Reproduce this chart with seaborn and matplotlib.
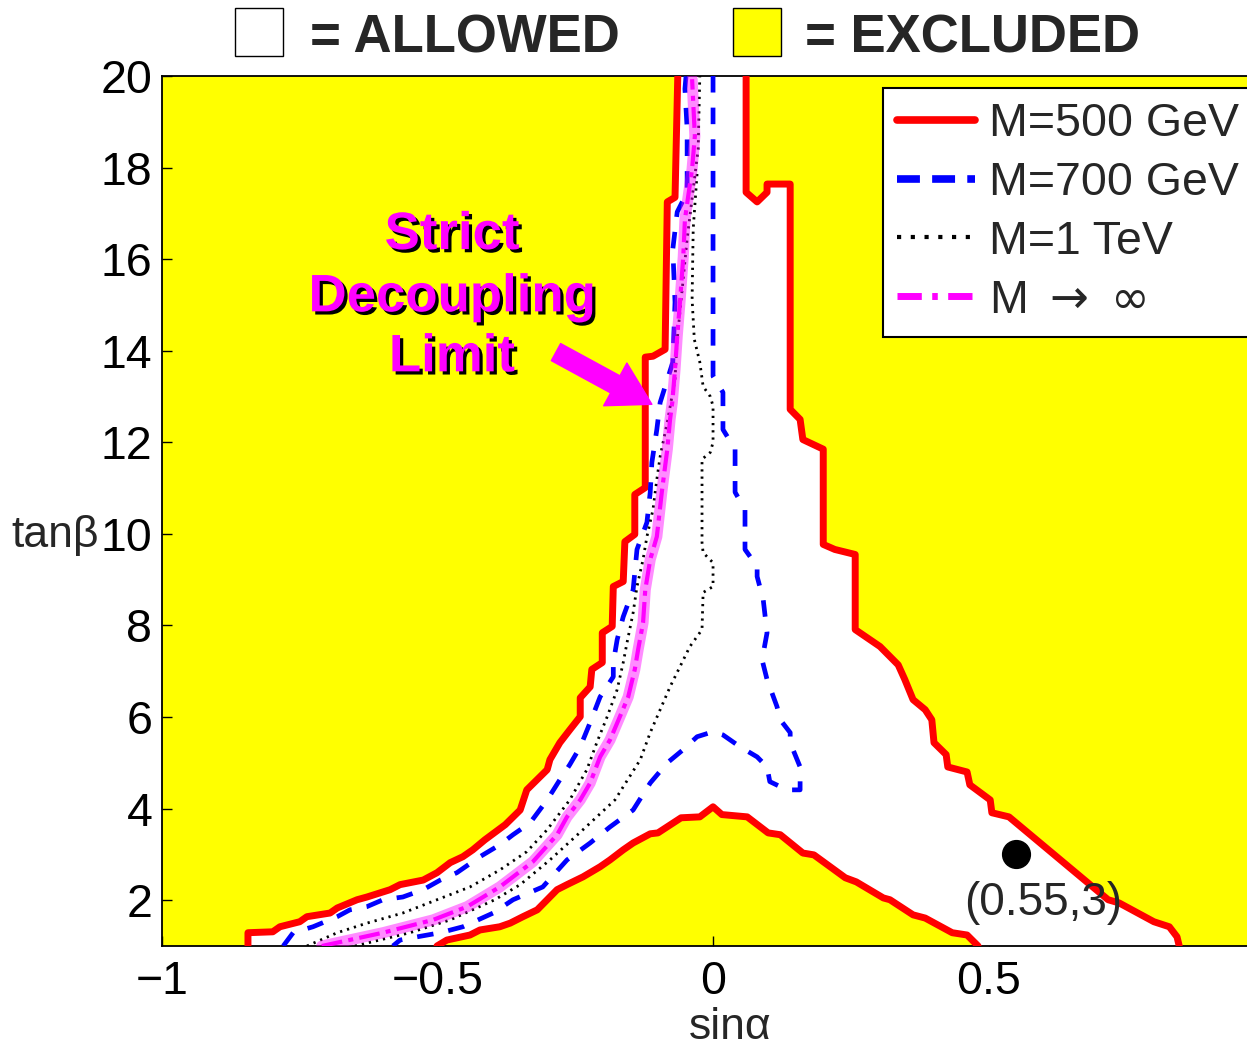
"""Allowed / excluded region in the (sin alpha, tan beta) plane."""

import matplotlib
matplotlib.use("Agg")
import matplotlib.pyplot as plt
import matplotlib.patheffects as pe
from matplotlib.lines import Line2D
from matplotlib.patches import Rectangle
import seaborn as sns

# --- M = 500 GeV contour (red), left branch bottom -> top ---
red_left_x = [-0.844, -0.844, -0.799, -0.786, -0.750, -0.737, -0.695, -0.682, -0.646, -0.628,
              -0.586, -0.568, -0.526, -0.501, -0.477, -0.454, -0.436, -0.414, -0.377, -0.350,
              -0.338, -0.301, -0.296, -0.278, -0.260, -0.241, -0.241, -0.223, -0.220, -0.201,
              -0.201, -0.183, -0.181, -0.163, -0.160, -0.142, -0.142, -0.123, -0.123, -0.109,
              -0.087, -0.083, -0.069, -0.064]
red_left_y = [1.00, 1.29, 1.31, 1.42, 1.53, 1.64, 1.72, 1.83, 2.01, 2.07,
              2.23, 2.34, 2.44, 2.60, 2.82, 2.95, 3.10, 3.32, 3.65, 3.97,
              4.41, 4.85, 5.07, 5.44, 5.72, 6.01, 6.42, 6.66, 7.04, 7.19,
              7.84, 7.98, 8.85, 8.96, 9.83, 9.99, 10.86, 11.01, 13.86, 13.88,
              14.03, 17.25, 17.35, 20.00]
# right branch top -> bottom
red_right_x = [0.060, 0.060, 0.080, 0.098, 0.098, 0.140, 0.140, 0.158, 0.163, 0.200,
               0.200, 0.221, 0.258, 0.258, 0.303, 0.336, 0.348, 0.363, 0.385, 0.397,
               0.401, 0.423, 0.426, 0.461, 0.466, 0.503, 0.506, 0.537, 0.717, 0.737,
               0.800, 0.828, 0.842, 0.846]
red_right_y = [20.00, 17.46, 17.25, 17.46, 17.64, 17.64, 12.72, 12.50, 12.06, 11.85,
               9.77, 9.66, 9.55, 7.91, 7.54, 7.14, 6.82, 6.38, 6.16, 5.94,
               5.44, 5.18, 4.91, 4.80, 4.52, 4.19, 3.91, 3.82, 2.01, 1.94,
               1.53, 1.42, 1.20, 1.00]
# lower bump
red_bump_x = [-0.501, -0.483, -0.441, -0.423, -0.387, -0.368, -0.345, -0.319, -0.301, -0.283,
              -0.265, -0.236, -0.205, -0.187, -0.163, -0.145, -0.114, -0.100, -0.058, -0.024,
              0.000, 0.016, 0.062, 0.100, 0.122, 0.163, 0.183, 0.240, 0.260, 0.309,
              0.321, 0.363, 0.385, 0.434, 0.461, 0.481]
red_bump_y = [1.00, 1.13, 1.24, 1.35, 1.42, 1.50, 1.64, 1.79, 2.01, 2.23,
              2.34, 2.51, 2.73, 2.88, 3.10, 3.25, 3.45, 3.47, 3.80, 3.82,
              4.04, 3.87, 3.82, 3.47, 3.43, 3.03, 2.99, 2.49, 2.40, 2.05,
              2.01, 1.68, 1.61, 1.29, 1.24, 1.00]

# --- M = 700 GeV contour (blue dashed) ---
blue_outer_x = [-0.780, -0.762, -0.726, -0.682, -0.659, -0.628, -0.599, -0.563, -0.526, -0.495,
                -0.465, -0.423, -0.387, -0.363, -0.332, -0.301, -0.278, -0.260, -0.241, -0.223,
                -0.205, -0.181, -0.181, -0.174, -0.163, -0.145, -0.138, -0.120, -0.114, -0.111,
                -0.102, -0.096, -0.073, -0.069, -0.073, -0.065, -0.047, -0.047, -0.051, -0.049]
blue_outer_y = [1.00, 1.29, 1.42, 1.64, 1.79, 1.86, 2.01, 2.07, 2.23, 2.44,
                2.60, 2.95, 3.21, 3.43, 3.69, 4.19, 4.63, 4.96, 5.35, 5.88,
                6.44, 6.88, 7.19, 7.69, 8.19, 8.78, 9.66, 10.25, 10.91, 11.56,
                12.28, 12.87, 13.75, 15.06, 16.22, 17.03, 17.46, 18.84, 19.72, 20.00]
blue_inner_x = [0.000, 0.000, 0.018, 0.018, 0.040, 0.040, 0.058, 0.058, 0.080, 0.080,
                0.091, 0.098, 0.089, 0.098, 0.116, 0.122, 0.140, 0.140, 0.158, 0.158,
                0.134, 0.103, 0.098, 0.080, 0.049, 0.018, 0.000, -0.029, -0.054, -0.083,
                -0.114, -0.145, -0.187, -0.223, -0.265, -0.309, -0.363, -0.399, -0.454, -0.495,
                -0.537, -0.568, -0.581]
blue_inner_y = [20.00, 13.44, 13.09, 12.28, 11.85, 10.91, 10.53, 9.66, 9.29, 9.07,
                8.57, 7.84, 7.25, 6.82, 6.23, 5.94, 5.66, 5.44, 4.91, 4.41,
                4.41, 4.59, 4.91, 5.13, 5.35, 5.61, 5.68, 5.57, 5.29, 5.00,
                4.56, 3.97, 3.60, 3.25, 2.88, 2.29, 2.01, 1.72, 1.42, 1.29,
                1.20, 1.13, 1.00]

# --- M = 1 TeV contour (black dotted) ---
dot_outer_x = [-0.737, -0.682, -0.628, -0.563, -0.501, -0.441, -0.387, -0.338, -0.301, -0.260,
               -0.229, -0.211, -0.192, -0.174, -0.163, -0.156, -0.145, -0.138, -0.127, -0.120,
               -0.109, -0.102, -0.096, -0.082, -0.069, -0.065, -0.056, -0.047, -0.036, -0.027,
               -0.024]
dot_outer_y = [1.00, 1.29, 1.50, 1.72, 2.01, 2.29, 2.66, 3.06, 3.54, 4.19,
               4.85, 5.44, 6.01, 6.60, 7.19, 7.63, 8.28, 8.85, 9.44, 9.94,
               10.53, 11.19, 11.69, 12.50, 13.38, 14.25, 15.34, 16.44, 17.53, 18.40,
               20.00]
dot_inner_x = [-0.029, -0.036, -0.038, -0.034, -0.024, -0.018, -0.005, 0.000, 0.000, -0.005,
               -0.020, -0.020, -0.018, 0.000, 0.000, -0.018, -0.020, -0.042, -0.060, -0.078,
               -0.096, -0.114, -0.132, -0.178, -0.236, -0.296, -0.350, -0.396, -0.477, -0.550,
               -0.650]
dot_inner_y = [17.86, 16.66, 15.12, 14.25, 13.75, 13.22, 13.00, 12.79, 12.00, 11.78,
               11.63, 9.81, 9.59, 9.37, 8.85, 8.72, 7.91, 7.54, 7.10, 6.66,
               6.16, 5.66, 5.07, 4.19, 3.54, 2.88, 2.34, 2.01, 1.57, 1.29,
               1.00]

# --- M -> infinity (strict decoupling limit, magenta) ---
mag_x = [-0.710, -0.599, -0.508, -0.446, -0.387, -0.327, -0.283, -0.265, -0.241, -0.223,
         -0.205, -0.187, -0.169, -0.154, -0.142, -0.136, -0.127, -0.123, -0.114, -0.102,
         -0.093, -0.083, -0.078, -0.074, -0.069, -0.065, -0.060, -0.054, -0.051, -0.045,
         -0.038, -0.033, -0.036, -0.038]
mag_y = [1.00, 1.29, 1.57, 1.86, 2.29, 2.84, 3.43, 3.82, 4.19, 4.56,
         5.13, 5.50, 6.01, 6.44, 7.04, 7.47, 8.06, 8.78, 9.44, 9.94,
         10.91, 11.85, 12.50, 12.87, 13.59, 14.32, 15.06, 16.06, 16.87, 17.38,
         17.97, 18.69, 19.43, 19.93]

point = (0.55, 3)
point_label = "(0.55,3)"
legend_labels = ["M=500 GeV", "M=700 GeV", "M=1 TeV", "M $\\rightarrow$ $\\infty$"]
xticks = [-1, -0.5, 0, 0.5]
xtick_labels = ["−1", "−0.5", "0", "0.5"]
yticks = [2, 4, 6, 8, 10, 12, 14, 16, 18, 20]

YELLOW = "#ffff00"
RED = "#ff0000"
BLUE = "#0000ff"
MAGENTA = "#ff00ff"

sns.set_theme(style="ticks")
plt.rcParams["font.family"] = ["Liberation Sans", "DejaVu Sans"]

fig = plt.figure(figsize=(12.47, 10.47), dpi=100)
ax = fig.add_axes([0.12991, 0.09647, 0.87009, 0.83095])
ax.set_facecolor(YELLOW)

# white = allowed region
fill_x = red_left_x + red_right_x + red_bump_x[::-1]
fill_y = red_left_y + red_right_y + red_bump_y[::-1]
ax.fill(fill_x, fill_y, color="white", lw=0, zorder=1)


def draw(x, y, color, lw, dashes=None, alpha=1.0, z=3):
    sns.lineplot(x=x, y=y, sort=False, estimator=None, color=color, lw=lw,
                 alpha=alpha, ax=ax, zorder=z)
    line = ax.lines[-1]
    if dashes is not None:
        line.set_dashes(dashes)
        line.set_dash_capstyle("butt")
    return line


for xs, ys in [(red_left_x, red_left_y), (red_right_x, red_right_y), (red_bump_x, red_bump_y)]:
    draw(xs, ys, RED, 5.0, z=3)
for xs, ys in [(blue_outer_x, blue_outer_y), (blue_inner_x, blue_inner_y)]:
    draw(xs, ys, BLUE, 3.4, dashes=(3.5, 3.2), z=4)
for xs, ys in [(dot_outer_x, dot_outer_y), (dot_inner_x, dot_inner_y)]:
    draw(xs, ys, "black", 2.0, dashes=(0.8, 1.8), z=5)
draw(mag_x, mag_y, MAGENTA, 3.0, dashes=(5, 1.5, 1.2, 1.5), z=6)
draw(mag_x, mag_y, MAGENTA, 8.0, alpha=0.45, z=7)

ax.plot([point[0]], [point[1]], "o", color="black", ms=20, zorder=8)
ax.text(0.599, 1.94, point_label, fontsize=33, ha="center", va="center", zorder=8)

# annotation
shadow = [pe.withSimplePatchShadow(offset=(2.3, -2.3), shadow_rgbFace="black", alpha=1.0)]
for txt, yb in [("Strict", 16.22), ("Decoupling", 14.86), ("Limit", 13.55)]:
    ax.text(-0.474, yb, txt, color=MAGENTA, fontsize=38, fontweight="bold",
            ha="center", va="baseline", path_effects=shadow, zorder=9)
ax.annotate("", xy=(-0.111, 12.83), xytext=(-0.285, 13.97),
            arrowprops=dict(arrowstyle="simple,head_length=0.6,head_width=0.7,tail_width=0.28",
                            color=MAGENTA, mutation_scale=50, shrinkA=0, shrinkB=0),
            zorder=9)

ax.set_xlim(-1, 0.969)
ax.set_ylim(1, 20)
ax.set_xticks(xticks)
ax.set_xticklabels(xtick_labels)
ax.set_yticks(yticks)
ax.tick_params(direction="in", length=7, width=1.0, colors="black", labelsize=33.5)
ax.tick_params(axis="y", pad=7)
ax.tick_params(axis="x", pad=10)
for side in ["left", "top", "bottom"]:
    ax.spines[side].set_color("black")
    ax.spines[side].set_linewidth(1.3)
ax.spines["right"].set_visible(False)

ax.set_xlabel("sinα", fontsize=32)
ax.xaxis.set_label_coords(0.5235, -0.1065)
ax.xaxis.label.set_va("baseline")
ax.set_ylabel("tanβ", fontsize=32, rotation=0, ha="center", va="center")
ax.yaxis.set_label_coords(-0.0986, 0.4724)

handles = [
    Line2D([], [], color=RED, lw=5.5),
    Line2D([], [], color=BLUE, lw=5.5, dashes=(3, 1.6), dash_capstyle="butt"),
    Line2D([], [], color="black", lw=3, dashes=(1, 2.3), dash_capstyle="butt"),
    Line2D([], [], color=MAGENTA, lw=5, dashes=(3.5, 1.5, 0.8, 1.5), dash_capstyle="butt"),
]
leg = ax.legend(handles, legend_labels, loc="upper left", bbox_to_anchor=(0.6645, 0.9862),
                borderaxespad=0, fontsize=33.5, handlelength=1.67, handletextpad=0.3,
                labelspacing=0.32, borderpad=0.3, fancybox=False, framealpha=1,
                edgecolor="black")
leg.get_frame().set_linewidth(1.5)
leg.set_zorder(10)

# header key
fig.add_artist(Rectangle((0.1885, 0.9465), 0.0385, 0.0458, transform=fig.transFigure,
                         facecolor="white", edgecolor="black", lw=1))
fig.add_artist(Rectangle((0.5878, 0.9465), 0.0385, 0.0458, transform=fig.transFigure,
                         facecolor=YELLOW, edgecolor="black", lw=1))
fig.text(0.2486, 0.9503, "= ALLOWED", fontsize=38, fontweight="bold", va="baseline")
fig.text(0.6455, 0.9503, "= EXCLUDED", fontsize=38, fontweight="bold", va="baseline")

fig.savefig("out.png", dpi=100)
